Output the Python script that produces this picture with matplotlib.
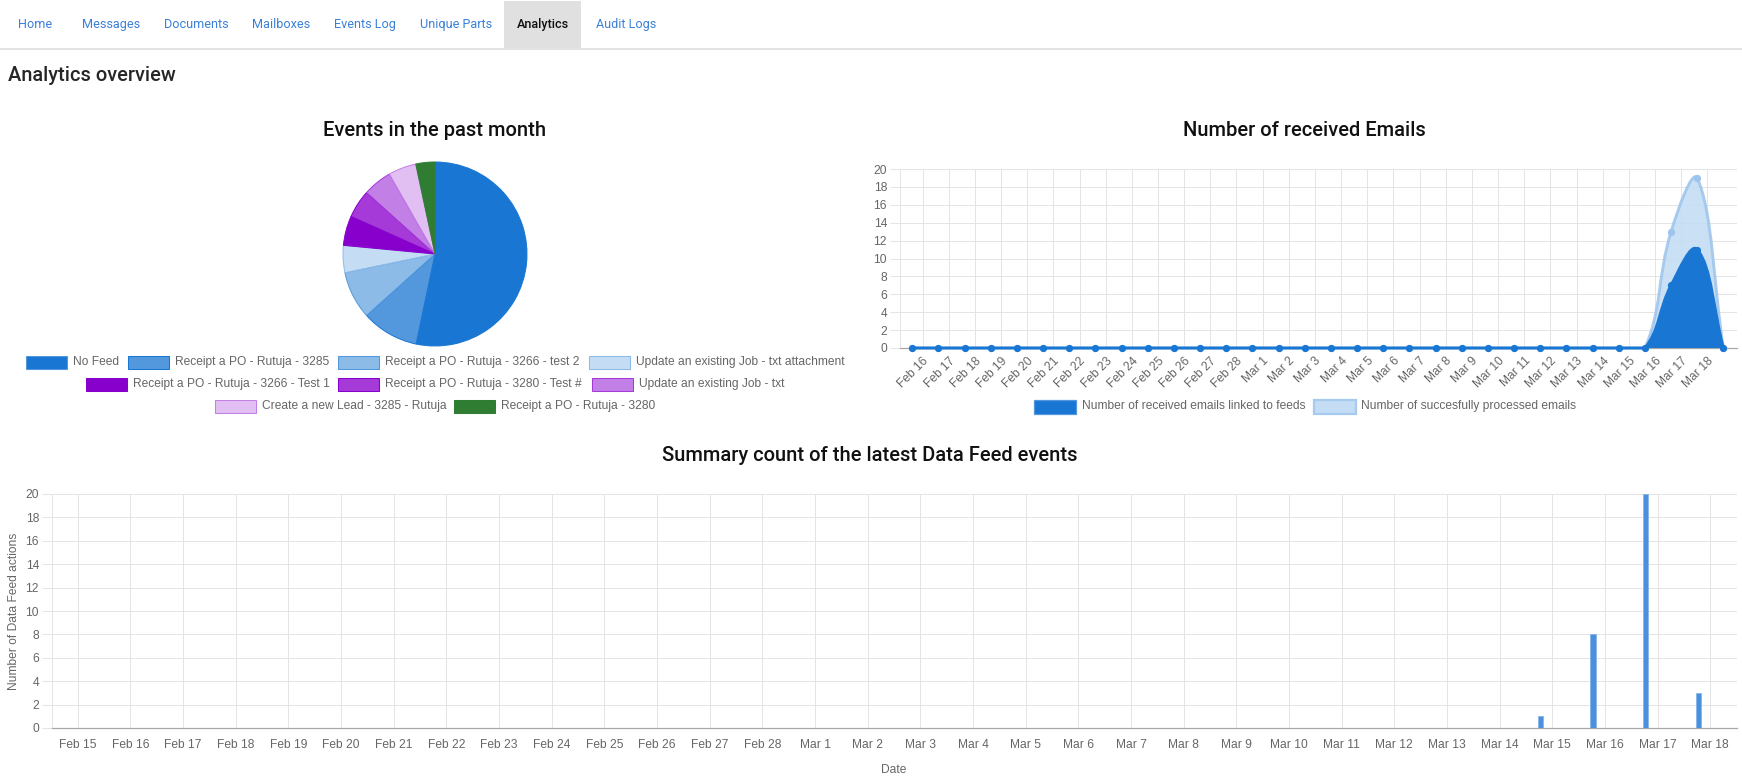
#!/usr/bin/env python3
import numpy as np
import matplotlib
matplotlib.use('Agg')
import matplotlib.pyplot as plt
from matplotlib.patches import Rectangle, PathPatch
from matplotlib.path import Path

W = 1742
H = 779
GRID = '#e4e4e4'
TXT = '#666666'
TS = 8.64


def px_axes(x0, y0, x1, y1):
    return fig.add_axes([x0/W, 1-y1/H, (x1-x0)/W, (y1-y0)/H])


def spline_path(x, y, sx, sy, t=0.4):
    # same control points as the chart's bezier lines, capped to the y range
    verts = [(x[0], y[0])]
    codes = [Path.MOVETO]
    n = len(x)
    nxt = [None]*n
    prv = [None]*n
    for i in range(n):
        a = max(i-1, 0)
        b = min(i+1, n-1)
        d01 = np.hypot((x[i]-x[a])*sx, (y[i]-y[a])*sy)
        d12 = np.hypot((x[b]-x[i])*sx, (y[b]-y[i])*sy)
        tot = d01+d12
        fa = t*d01/tot
        fb = t*d12/tot
        prv[i] = (x[i]-fa*(x[b]-x[a]), np.clip(y[i]-fa*(y[b]-y[a]), 0, 20))
        nxt[i] = (x[i]+fb*(x[b]-x[a]), np.clip(y[i]+fb*(y[b]-y[a]), 0, 20))
    for i in range(1, n):
        verts += [nxt[i-1], prv[i], (x[i], y[i])]
        codes += [Path.CURVE4]*3
    return verts, codes


fig = plt.figure(figsize=(W/100, H/100), dpi=100)

# page furniture
bg = fig.add_axes([0, 0, 1, 1])
bg.set_xlim(0, W)
bg.set_ylim(H, 0)
bg.axis('off')
bg.add_patch(Rectangle((0, 47.5), W, 2, color='#e2e2e2', lw=0))
bg.add_patch(Rectangle((504, 1), 77, 47, color='#e0e0e0', lw=0))
nav = [('Home', 18), ('Messages', 82), ('Documents', 164), ('Mailboxes', 252), ('Events Log', 334),
       ('Unique Parts', 420), ('Analytics', 517), ('Audit Logs', 596)]
for name, xp in nav:
    active = name == 'Analytics'
    bg.text(xp, 24, name, family='Roboto', fontsize=9.05, va='center',
            color='#111111' if active else '#3a80d8', weight='medium' if active else 'normal')
bg.text(8, 75, 'Analytics overview', family='Roboto', fontsize=14.4, weight='medium', va='center', color='#262626')
bg.text(435, 130, 'Events in the past month', family='Roboto', fontsize=14.5, weight='medium', ha='center', va='center', color='#111111')
bg.text(1304, 130, 'Number of received Emails', family='Roboto', fontsize=14.5, weight='medium', ha='center', va='center', color='#111111')
bg.text(870, 455, 'Summary count of the latest Data Feed events', family='Roboto', fontsize=14.5, weight='medium', ha='center', va='center', color='#111111')

# pie
feeds = ['No Feed', 'Receipt a PO - Rutuja - 3285', 'Receipt a PO - Rutuja - 3266 - test 2',
         'Update an existing Job - txt attachment', 'Receipt a PO - Rutuja - 3266 - Test 1',
         'Receipt a PO - Rutuja - 3280 - Test #', 'Update an existing Job - txt',
         'Create a new Lead - 3285 - Rutuja', 'Receipt a PO - Rutuja - 3280']
counts = [53.3, 10.05, 8.4, 4.75, 5.2, 4.95, 5.1, 4.9, 3.35]
cols = ['#1976d2', '#5398dd', '#8cbbe8', '#c5ddf4', '#8800cc', '#a63ad9', '#c27fe6', '#e2bff2', '#2e7d32']
edges = ['#1976d2', '#1976d2', '#5398dd', '#8cbbe8', '#8800cc', '#8800cc', '#a63ad9', '#c27fe6', '#2e7d32']
ax1 = px_axes(343, 162, 527, 346)
ax1.pie(counts, colors=cols, startangle=90, counterclock=False, radius=1,
        wedgeprops={'linewidth': 0.7, 'edgecolor': 'white'})
for w, e in zip(ax1.patches, edges):
    w.set_edgecolor(e)
ax1.set_xlim(-1, 1)
ax1.set_ylim(-1, 1)

rows = [(362, [(26, 0), (128, 1), (338, 2), (589, 3)]),
        (384, [(86, 4), (338, 5), (592, 6)]),
        (406, [(215, 7), (454, 8)])]
for yp, items in rows:
    for xp, i in items:
        bg.add_patch(Rectangle((xp, yp-6), 41, 12.5, facecolor=cols[i], edgecolor=edges[i] if i else '#5398dd', lw=0.75))
        bg.text(xp+46.5, yp, feeds[i], family='Liberation Sans', fontsize=TS, color=TXT, va='center')

# emails line chart
days = ['Feb 16', 'Feb 17', 'Feb 18', 'Feb 19', 'Feb 20', 'Feb 21', 'Feb 22', 'Feb 23', 'Feb 24', 'Feb 25',
        'Feb 26', 'Feb 27', 'Feb 28', 'Mar 1', 'Mar 2', 'Mar 3', 'Mar 4', 'Mar 5', 'Mar 6', 'Mar 7', 'Mar 8',
        'Mar 9', 'Mar 10', 'Mar 11', 'Mar 12', 'Mar 13', 'Mar 14', 'Mar 15', 'Mar 16', 'Mar 17', 'Mar 18']
linked = [0]*29 + [7, 11, 0]
processed = [0]*29 + [13, 19, 0]
xs = np.arange(32) - 0.39

ax2 = px_axes(899.5, 169, 1737, 348)
ax2.set_xlim(-0.88, 31.13)
ax2.set_ylim(0, 20)
sx = (1737-899.5)/32.01
sy = 179/20.0

for vals, fc, ec, z in [(processed, '#c5ddf4', '#9cc4ec', 3), (linked, '#1976d2', '#1976d2', 4)]:
    v, c = spline_path(xs, vals, sx, sy)
    fill = Path(v + [(xs[-1], 0), (xs[0], 0), (xs[0], 0)], c + [Path.LINETO, Path.LINETO, Path.CLOSEPOLY])
    ax2.add_patch(PathPatch(fill, facecolor=fc, edgecolor='none', alpha=0.9 if z == 3 else 1, zorder=z))
    ax2.add_patch(PathPatch(Path(v, c), facecolor='none', edgecolor=ec, lw=2.1, alpha=0.85 if z == 3 else 1, zorder=z, clip_on=False))
    ax2.plot(xs, vals, 'o', ms=5.2, color=ec, mew=0, zorder=z+0.5, clip_on=False)

ax2.set_xticks(np.arange(len(days)))
ax2.set_xticklabels(days, rotation=45, ha='right', rotation_mode='anchor')
ax2.set_yticks(np.arange(0, 21, 2))

# data feed bars
dates = ['Feb 15'] + days
actions = [0]*28 + [1, 8, 20, 3]
ax3 = px_axes(51.5, 494, 1736.6, 728)
ax3.bar(np.arange(len(dates))-0.228, actions, width=0.1, color='#4a90dc', edgecolor='#7fb2ea', linewidth=0.5, zorder=3)
ax3.set_xlim(-0.5, 31.5)
ax3.set_ylim(0, 20)
ax3.set_xticks(np.arange(len(dates)))
ax3.set_xticklabels(dates)
ax3.set_yticks(np.arange(0, 21, 2))
ax3.set_xlabel('Date', family='Liberation Sans', fontsize=TS, color=TXT, labelpad=9)
ax3.set_ylabel('Number of Data Feed actions', family='Liberation Sans', fontsize=TS, color=TXT, labelpad=4)

for ax in (ax2, ax3):
    ax.grid(True, color=GRID, lw=0.72, zorder=0)
    ax.set_axisbelow(True)
    for s in ('top', 'right'):
        ax.spines[s].set_visible(False)
    ax.spines['left'].set_color(GRID)
    ax.spines['left'].set_linewidth(0.72)
    ax.spines['bottom'].set_color('#a8a8a8')
    ax.spines['bottom'].set_linewidth(0.9)
    ax.tick_params(axis='y', length=7, width=0.72, color=GRID, labelcolor=TXT, labelsize=TS, pad=2)
    ax.tick_params(axis='x', length=0, labelcolor=TXT, labelsize=TS, pad=8)
    for lab in ax.get_xticklabels() + ax.get_yticklabels():
        lab.set_family('Liberation Sans')
ax2.tick_params(axis='x', pad=5)

# line chart legend
bg.add_patch(Rectangle((1033.5, 400), 42.5, 13.5, facecolor='#1976d2', edgecolor='#5398dd', lw=0.9))
bg.text(1081.5, 406, 'Number of received emails linked to feeds', family='Liberation Sans', fontsize=TS, color=TXT, va='center')
bg.add_patch(Rectangle((1314, 400), 41.5, 13.5, facecolor='#c5ddf4', edgecolor='#a4caf0', lw=1.6))
bg.text(1361, 406, 'Number of succesfully processed emails', family='Liberation Sans', fontsize=TS, color=TXT, va='center')

fig.savefig('out.png', dpi=100)
